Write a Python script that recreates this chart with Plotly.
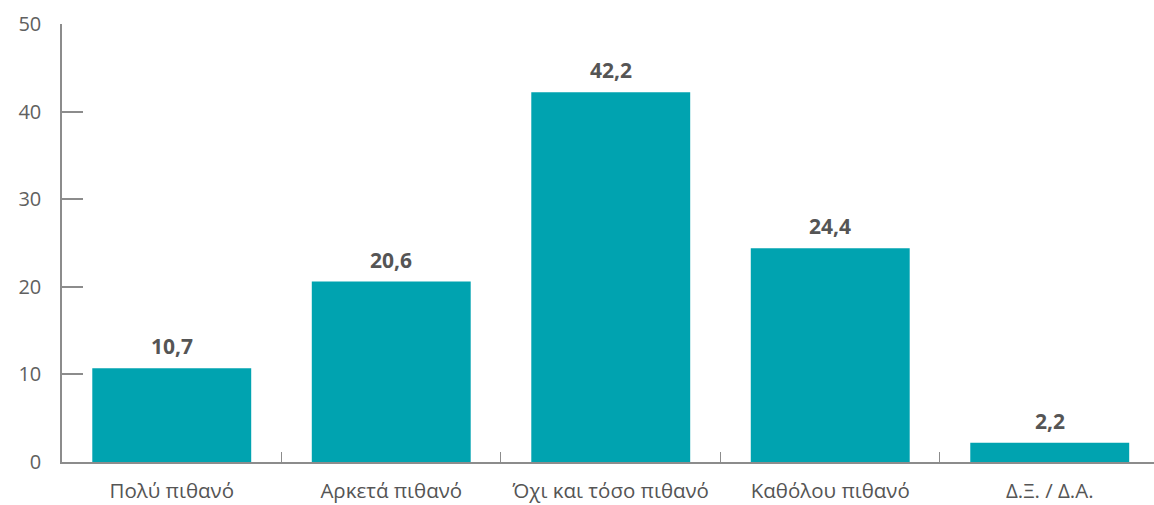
import plotly.graph_objects as go

categories = ["Πολύ πιθανό", "Αρκετά πιθανό", "Όχι και τόσο πιθανό", "Καθόλου πιθανό", "Δ.Ξ. / Δ.Α."]
values = [10.7, 20.6, 42.2, 24.4, 2.2]
y_ticks = [0, 10, 20, 30, 40, 50]

BAR = "#00A3B0"
AXIS = "#8c8c8c"
TEXT = "#555555"
FONT = "Open Sans"

fig = go.Figure(
    go.Bar(
        x=categories,
        y=values,
        marker=dict(color=BAR, line=dict(width=0)),
        hoverinfo="x+y",
    )
)

# value labels above each bar
for cat, val in zip(categories, values):
    fig.add_annotation(
        x=cat,
        y=val,
        text=f"<b>{val:.1f}</b>".replace(".", ","),
        showarrow=False,
        yanchor="bottom",
        yshift=6,
        font=dict(family=FONT, size=21, color=TEXT),
    )

fig.update_layout(
    width=1154,
    height=505,
    margin=dict(l=62, r=0, t=24, b=43),
    paper_bgcolor="white",
    plot_bgcolor="white",
    separators=",.",
    bargap=0.276,
    showlegend=False,
    font=dict(family=FONT, color=TEXT),
)

fig.update_xaxes(
    range=[-0.5, 4.475],
    showline=True,
    linecolor=AXIS,
    linewidth=1.5,
    ticks="inside",
    tickson="boundaries",
    ticklen=10,
    tickcolor=AXIS,
    tickwidth=1,
    tickfont=dict(family=FONT, size=20.5, color=TEXT),
    ticklabelstandoff=10,
    showgrid=False,
    zeroline=False,
)

fig.update_yaxes(
    range=[0, 50],
    tickvals=y_ticks,
    showline=True,
    linecolor=AXIS,
    linewidth=1.5,
    ticks="inside",
    ticklen=21,
    tickcolor=AXIS,
    tickwidth=1.5,
    tickfont=dict(family=FONT, size=20, color="#606060"),
    ticklabelstandoff=15,
    showgrid=False,
    zeroline=False,
)

fig.write_html("out.html")
